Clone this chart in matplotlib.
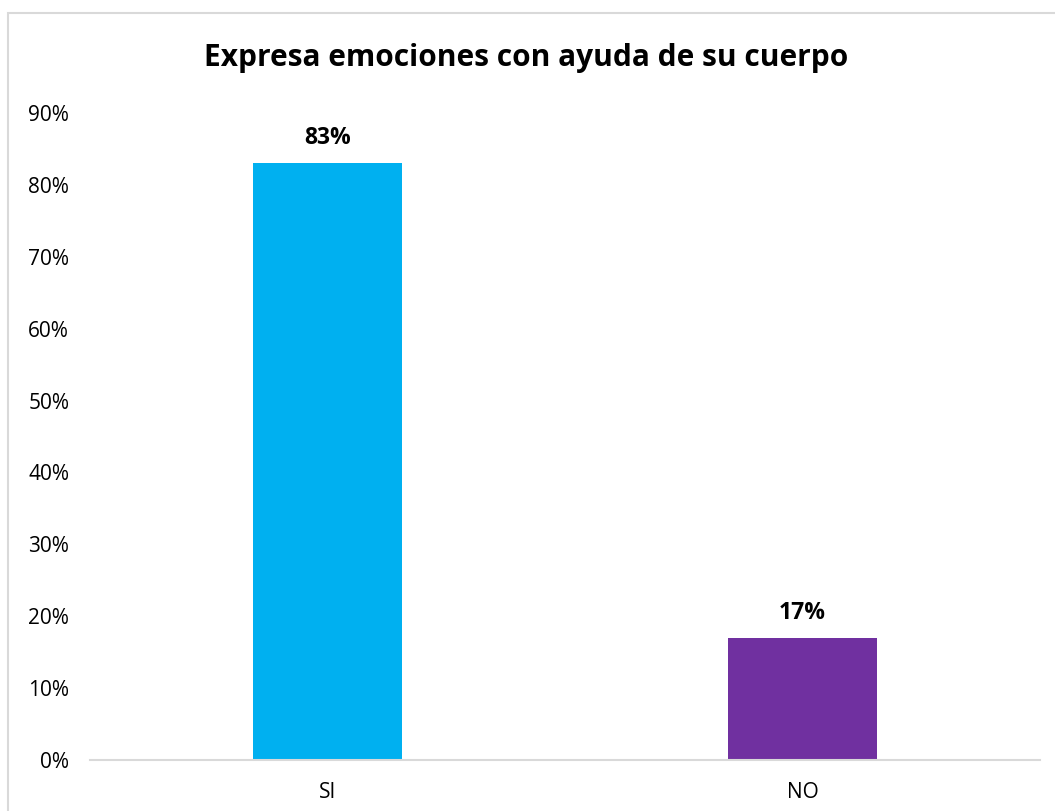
import matplotlib
matplotlib.use("Agg")
import matplotlib.pyplot as plt
from matplotlib.patches import Rectangle
from matplotlib.ticker import PercentFormatter

categories = ["SI", "NO"]
values = [0.83, 0.17]
colors = ["#00B0F0", "#7030A0"]
title = "Expresa emociones con ayuda de su cuerpo"

plt.rcParams['font.family'] = ['Open Sans', 'DejaVu Sans']

W, H = 1055, 811
fig = plt.figure(figsize=(W / 100, H / 100), dpi=100)
ax = fig.add_axes([90 / W, 51 / H, 950 / W, (760 - 113) / H])

# outer chart border (only top and left are visible in the crop)
fig.patches.append(Rectangle((8 / W, -0.1), 1.2, (H - 13) / H + 0.1, transform=fig.transFigure,
                             fill=False, edgecolor="#D9D9D9", linewidth=1.5))

x = range(len(categories))
bars = ax.bar(x, values, width=0.314, color=colors)
for b, v in zip(bars, values):
    ax.text(b.get_x() + b.get_width() / 2, v + 0.018, "{:.0%}".format(v),
            ha="center", va="bottom", fontsize=16.5, fontweight="bold")

ax.set_xlim(-0.5, 1.5)
ax.set_ylim(0, 0.9)
ax.set_yticks([i / 10 for i in range(10)])
ax.yaxis.set_major_formatter(PercentFormatter(1.0, decimals=0))
ax.set_xticks(list(x))
ax.set_xticklabels(categories)
ax.tick_params(axis="both", length=0, labelsize=15, colors="black")
ax.tick_params(axis="y", pad=15)
ax.tick_params(axis="x", pad=16)
for s in ["top", "right", "left"]:
    ax.spines[s].set_visible(False)
ax.spines["bottom"].set_color("#D9D9D9")
ax.spines["bottom"].set_linewidth(1.5)

fig.text(526 / W, 1 - 58 / H, title, ha="center", va="center", fontsize=21.5, fontweight="bold")

fig.savefig("out.png", dpi=100)
